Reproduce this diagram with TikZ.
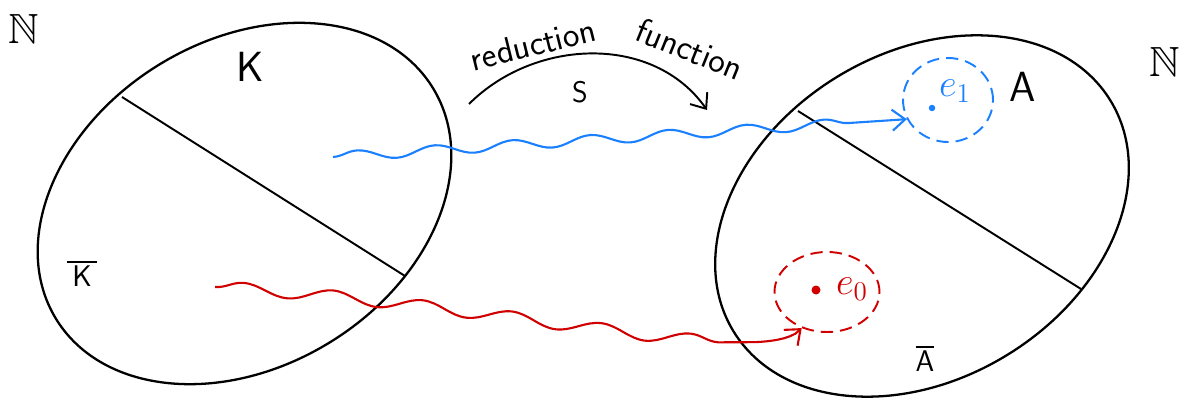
\RequirePackage{fix-cm}
\documentclass[tikz,border=0pt]{standalone}
\usepackage{amsmath,amssymb}
\usepackage{fontspec}
\usetikzlibrary{shapes.geometric,decorations.pathmorphing,arrows.meta}
\definecolor{inkblue}{RGB}{26,128,255}
\definecolor{inkred}{RGB}{208,0,0}

\begin{document}
\begin{tikzpicture}[thick, >={Straight Barb[length=2.6mm,width=4.2mm]}]
    \tikzstyle{region} = [ellipse, draw, line width=1.3pt, rotate=31.5, minimum width=8.84cm, minimum height=6.52cm, inner sep=0pt]
    \tikzstyle{chord} = [line width=1.1pt]
    \tikzstyle{big} = [font=\sffamily\fontsize{24}{28}\selectfont]
    \tikzstyle{small} = [font=\sffamily\fontsize{17}{20}\selectfont]
    \tikzstyle{word} = [font=\sffamily\fontsize{20}{24}\selectfont, inner sep=0pt]
    \tikzstyle{blob} = [ellipse, draw, dash pattern=on 7pt off 4pt, line width=1.1pt, inner sep=0pt]
    \tikzstyle{dot} = [circle, inner sep=0pt]
    \tikzstyle{bluewave} = [inkblue, line width=1.2pt, ->, decorate, decoration={snake, amplitude=0.1cm, segment length=1.56cm, post=curveto, post length=0.9cm}]
    \tikzstyle{redwave} = [inkred, line width=1.2pt, ->, decorate, decoration={snake, amplitude=0.12cm, segment length=1.8cm, post=curveto, post length=1cm}]
    \useasboundingbox (0,0) rectangle (23.72,8.02);

    % the two sets
    \node[region] (K) at (4.89,3.95) {};
    \node[region] (A) at (18.44,3.70) {};
    \coordinate (k1) at (2.44,6.08);
    \coordinate (k2) at (8.10,2.50);
    \coordinate (a1) at (15.96,5.80);
    \coordinate (a2) at (21.62,2.24);
    \draw[chord] (k1) -- (k2);
    \draw[chord] (a1) -- (a2);

    \node[big] (Nl) at (0.48,7.44) {$\mathbb{N}$};
    \node[big] (Nr) at (23.30,6.78) {$\mathbb{N}$};
    \node[big] (Klab) at (5.00,6.68) {K};
    \node[big] (Alab) at (20.46,6.28) {A};
    \node[small] (Kbar) at (1.64,2.55) {$\overline{\mbox{\,K\,}}$};
    \node[small] (Abar) at (18.50,0.85) {$\overline{\mbox{A}}$};

    % reduction arrow
    \coordinate (s1) at (9.38,5.94);
    \coordinate (s2) at (14.14,5.82);
    \draw[->, line width=1.1pt] (s1) to[out=45, in=125] (s2);
    \node[small] (S) at (11.60,6.18) {S};
    \node[word, rotate=14] (red) at (10.66,7.14) {reduction};
    \node[word, rotate=-22] (fun) at (13.80,7.04) {function};

    % e_1 and e_0
    \node[blob, inkblue, minimum width=1.8cm, minimum height=1.68cm] (e1set) at (18.96,6.02) {};
    \node[dot, fill=inkblue, minimum size=0.13cm] (e1dot) at (18.64,5.86) {};
    \node[inkblue, font=\fontsize{22}{26}\selectfont] (e1) at (19.10,6.20) {$e_1$};
    \node[blob, inkred, minimum width=2.1cm, minimum height=1.6cm] (e0set) at (16.54,2.18) {};
    \node[dot, fill=inkred, minimum size=0.18cm] (e0dot) at (16.32,2.22) {};
    \node[inkred, font=\fontsize{22}{26}\selectfont] (e0) at (17.04,2.24) {$e_0$};

    \coordinate (b0) at (6.66,4.88);
    \coordinate (r0) at (4.30,2.28);
    \draw[bluewave] (b0) -- (e1set.205);
    \draw[redwave] (r0) .. controls (10,1.9) and (15.4,0.6) .. (e0set.235);
\end{tikzpicture}
\end{document}
